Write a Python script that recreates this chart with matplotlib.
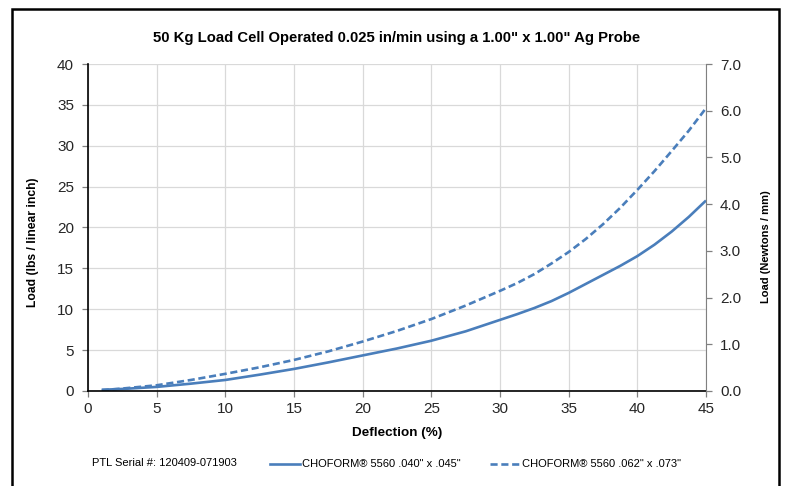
import matplotlib
matplotlib.use("Agg")
import matplotlib.pyplot as plt
from matplotlib.patches import Rectangle
from matplotlib.lines import Line2D
from matplotlib import font_manager as fm

deflection = [1, 2.5, 5, 7.5, 10, 12.5, 15, 17.5, 20, 22.5, 25, 27.5, 30, 31.25, 32.5, 33.75,
              35, 36.25, 37.5, 38.75, 40, 41.25, 42.5, 43.75, 45]
load_040 = [0.15, 0.25, 0.5, 0.9, 1.35, 2.0, 2.7, 3.5, 4.35, 5.2, 6.15, 7.3, 8.7, 9.4, 10.15, 11.0,
            12.0, 13.1, 14.2, 15.3, 16.5, 17.9, 19.5, 21.3, 23.3]
load_062 = [0.1, 0.3, 0.7, 1.35, 2.1, 2.9, 3.8, 4.85, 6.05, 7.35, 8.8, 10.45, 12.25, 13.2, 14.3, 15.6,
            17.0, 18.6, 20.4, 22.4, 24.6, 26.9, 29.35, 31.85, 34.6]

series_names = ['CHOFORM® 5560 .040" x .045"', 'CHOFORM® 5560 .062" x .073"']
title = '50 Kg Load Cell Operated 0.025 in/min using a 1.00" x 1.00" Ag Probe'
serial = 'PTL Serial #: 120409-071903'
xticks = [0, 5, 10, 15, 20, 25, 30, 35, 40, 45]
yticks_left = [0, 5, 10, 15, 20, 25, 30, 35, 40]
yticks_right = [0.0, 1.0, 2.0, 3.0, 4.0, 5.0, 6.0, 7.0]

regular = ['Liberation Sans', 'DejaVu Sans']
plt.rcParams['font.family'] = regular

# look for a condensed font; fall back to smaller Liberation Sans
narrow_reg = narrow_bold = None
for f in fm.fontManager.ttflist:
    if f.name == 'Liberation Sans Narrow' and f.style == 'normal':
        if f.weight in ('bold', 700):
            narrow_bold = f.fname
        elif f.weight in ('normal', 'regular', 400):
            narrow_reg = f.fname


def fp(bold, size_narrow, size_fallback):
    path = narrow_bold if bold else narrow_reg
    if path:
        return fm.FontProperties(fname=path, size=size_narrow)
    return fm.FontProperties(family=regular, weight='bold' if bold else 'normal', size=size_fallback)


color = '#4a7ebb'
dash = (0, (2.7, 1.4))
fig = plt.figure(figsize=(7.88, 4.86), dpi=100)
ax = fig.add_axes([88/788, 1-391/486, (706-88)/788, (391-64)/486])

ax.plot(deflection, load_040, color=color, lw=1.9, solid_capstyle='butt', solid_joinstyle='round')
ax.plot(deflection, load_062, color=color, lw=1.9, ls=dash)

ax.set_xlim(0, 45)
ax.set_ylim(0, 40)
ax.set_xticks(xticks)
ax.set_yticks(yticks_left)
ax.grid(True, color='#d9d9d9', lw=0.9)
ax.set_axisbelow(True)
for s in ['top', 'right']:
    ax.spines[s].set_visible(False)
ax.spines['left'].set_color('black')
ax.spines['bottom'].set_color('black')
ax.spines['left'].set_linewidth(1.2)
ax.spines['bottom'].set_linewidth(1.2)
ax.tick_params(axis='both', colors='#808080', length=4, width=0.9, labelcolor='#262626')
ax.tick_params(axis='y', labelsize=11, pad=6)
ax.tick_params(axis='x', pad=4)
xfp = fp(False, 12, 11)
for lab in ax.get_xticklabels():
    lab.set_fontproperties(xfp)

ax2 = ax.twinx()
ax2.set_ylim(0, 7)
ax2.set_yticks(yticks_right)
ax2.set_yticklabels([f'{v:.1f}' for v in yticks_right])
for s in ['top', 'left', 'bottom']:
    ax2.spines[s].set_visible(False)
ax2.spines['right'].set_color('#808080')
ax2.tick_params(axis='y', colors='#808080', length=4, width=0.9, labelcolor='#262626', labelsize=11, pad=6)

fig.text(0.5 * (88 + 706) / 788, 1 - 38/486, title, ha='center', va='center', fontsize=10.7, fontweight='bold')
fig.text(397/788, 1 - 433/486, 'Deflection (%)', ha='center', va='center', fontproperties=fp(True, 11.5, 9.7))
fig.text(33/788, 1 - 242/486, 'Load (lbs / linear inch)', ha='center', va='center', rotation=90,
         fontproperties=fp(True, 10.5, 8.7))
fig.text(766/788, 1 - 247/486, 'Load (Newtons / mm)', ha='center', va='center', rotation=90,
         fontproperties=fp(True, 10.5, 8.0))

fig.text(92/788, 1 - 463/486, serial, ha='left', va='center', fontsize=8)
y_leg = 1 - 464/486
fig.add_artist(Line2D([270/788, 300/788], [y_leg, y_leg], color=color, lw=1.9))
fig.text(302/788, y_leg, series_names[0], ha='left', va='center', fontproperties=fp(False, 9.5, 8.0))
fig.add_artist(Line2D([490/788, 520/788], [y_leg, y_leg], color=color, lw=1.9, ls=dash))
fig.text(522/788, y_leg, series_names[1], ha='left', va='center', fontproperties=fp(False, 9.5, 8.0))

fig.add_artist(Rectangle((12/788, -0.05), (779-12)/788, 1.05 - 9/486, transform=fig.transFigure,
                         fill=False, edgecolor='black', lw=1.8, clip_on=False))

fig.savefig('out.png', dpi=100)
